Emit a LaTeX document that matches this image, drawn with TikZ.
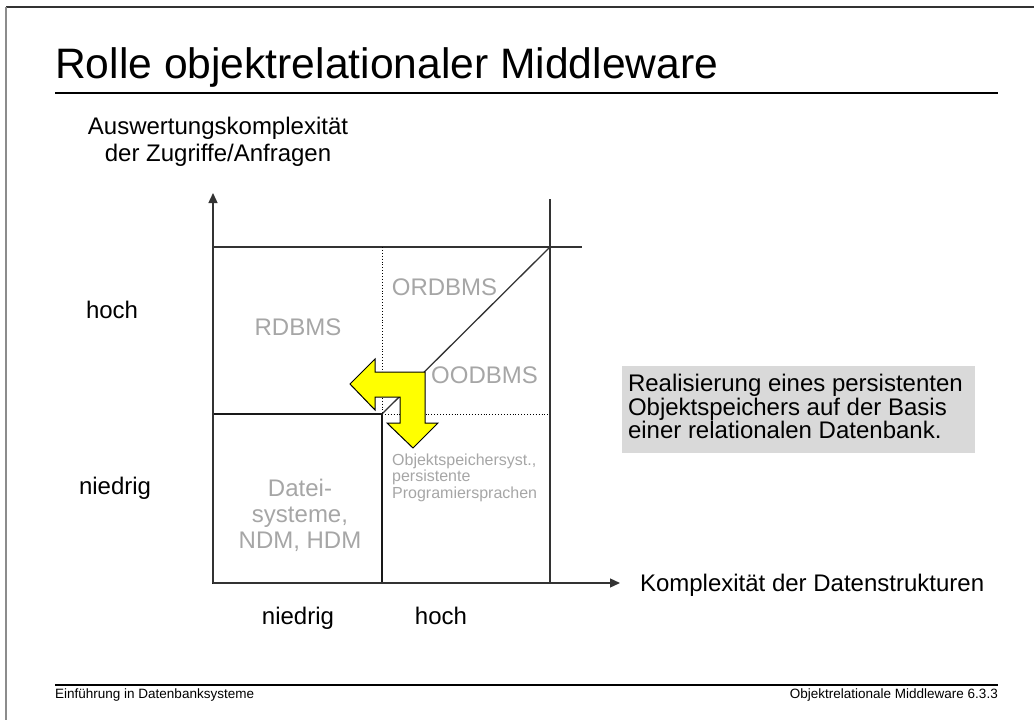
\documentclass[tikz,border=0pt]{standalone}
\usepackage{fontspec}
\setmainfont{Liberation Sans}
\usetikzlibrary{arrows.meta}
\definecolor{chartgray}{HTML}{A6A6A6}
\definecolor{boxgray}{HTML}{D9D9D9}
\definecolor{arrowyellow}{HTML}{FFFF00}
\begin{document}
\begin{tikzpicture}[x=1pt,y=-1pt,
  body/.style={font=\fontsize{24}{27}\selectfont, inner sep=0pt, outer sep=0pt},
  graytext/.style={body, text=chartgray},
  smallgray/.style={font=\fontsize{16}{16.5}\selectfont, inner sep=0pt, text=chartgray, align=left},
  footertext/.style={font=\fontsize{13.5}{15}\selectfont, inner sep=0pt},
  rule/.style={line width=1.3pt, draw=black},
  gridline/.style={line width=1.3pt, draw=black!80},
  dotline/.style={line width=0.9pt, draw=black, dotted},
  boxline/.style={line width=2pt, draw=black!90},
  axisarrow/.style={line width=1.3pt, draw=black!80, -{Triangle[length=10pt,width=9pt]}},
  bigarrow/.style={fill=arrowyellow, draw=black, line width=1pt, line join=miter}
]
\useasboundingbox (0,0) rectangle (1034,720);
% frame
\draw[line width=1.5pt, draw=black!80] (6,7) -- (1034,7);
\draw[line width=2pt, draw=black!45] (6,7) -- (6,720);

% title
\node[anchor=base west, inner sep=0pt, font=\fontsize{42.6}{50}\selectfont] (title) at (55,78) {Rolle objektrelationaler Middleware};
\draw[rule] (55,93) -- (998,93);

% coordinates
\coordinate (O) at (213,583);
\coordinate (ytip) at (213,193);
\coordinate (xtip) at (620,583);
\coordinate (TL) at (213,247);
\coordinate (TR) at (550,247);
\coordinate (TRx) at (582,247);
\coordinate (RT) at (550,199);
\coordinate (RB) at (550,583);
\coordinate (MT) at (382,247);
\coordinate (C) at (382,414);
\coordinate (ML) at (213,414);
\coordinate (MR) at (550,414);
\coordinate (MB) at (382,583);

% grid
\draw[gridline] (TL) -- (TRx);
\draw[gridline] (RT) -- (RB);
\draw[dotline] (MT) -- (C);
\draw[dotline] (C) -- (MR);
\draw[gridline] (TR) -- (C);
\draw[boxline] (ML) rectangle (MB);
\draw[axisarrow] (O) -- (ytip);
\draw[axisarrow] (O) -- (xtip);

% yellow double arrow
\draw[bigarrow] (350,384) -- (375,359) -- (375,372) -- (425,372) -- (425,423) -- (438,423)
  -- (413,448) -- (387,423) -- (400,423) -- (400,397) -- (375,397) -- (375,410) -- cycle;

% chart labels
\node[graytext] (rdbms) at (298,327) {RDBMS};
\node[graytext] (ordbms) at (444.5,287) {ORDBMS};
\node[graytext] (oodbms) at (484.5,375) {OODBMS};
\node[graytext, anchor=north, align=center, font=\fontsize{24}{26}\selectfont] (datei) at (300,479.5) {Datei-\\systeme,\\NDM, HDM};
\node[smallgray, anchor=north west] (ospeicher) at (392,453.5) {Objektspeichersyst.,\\persistente\\Programiersprachen};

% axis labels
\node[body, anchor=north, align=center] (ylabel) at (218,117.5) {Auswertungskomplexität\\der Zugriffe/Anfragen};
\node[body, anchor=base west] (yhoch) at (86,318) {hoch};
\node[body, anchor=base west] (yniedrig) at (79,494) {niedrig};
\node[body, anchor=base] (xniedrig) at (298,624) {niedrig};
\node[body, anchor=base] (xhoch) at (441,624) {hoch};
\node[body, anchor=base west] (xlabel) at (640,591) {Komplexität der Datenstrukturen};

% note box
\fill[boxgray] (622,366) rectangle (975,453);
\node[body, anchor=base west] (note1) at (628,391.7) {Realisierung eines persistenten};
\node[body, anchor=base west] (note2) at (628,415) {Objektspeichers auf der Basis};
\node[body, anchor=base west] (note3) at (628,438.3) {einer relationalen Datenbank.};

% footer
\draw[rule] (55,685) -- (998,685);
\node[footertext, anchor=base west] (fleft) at (55,698) {Einführung in Datenbanksysteme};
\node[footertext, anchor=base east] (fright) at (998,698) {Objektrelationale Middleware 6.3.3};
\end{tikzpicture}
\end{document}
